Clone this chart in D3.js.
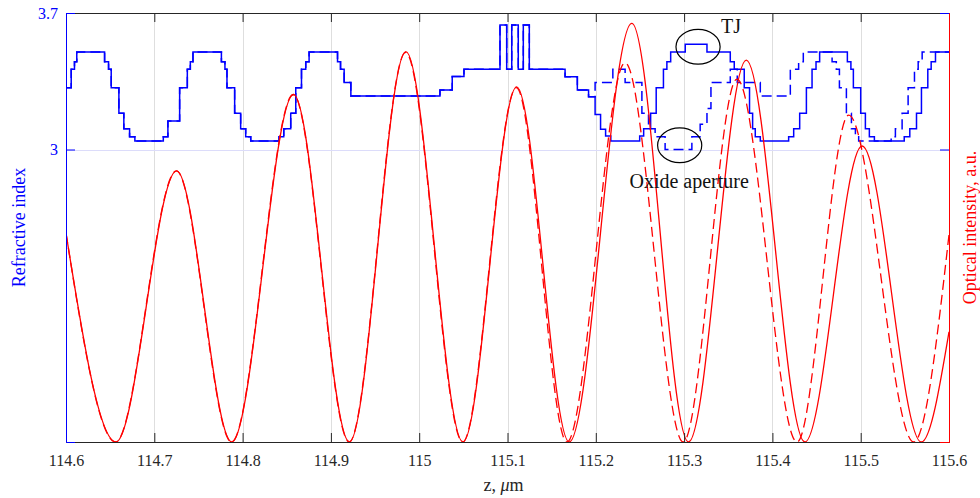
<!DOCTYPE html>
<html>
<head>
<meta charset="utf-8">
<script src="https://cdn.jsdelivr.net/npm/d3@7"></script>
<style>
    html, body { margin: 0; padding: 0; background: #fff; }
    svg, svg text { font-family: "Liberation Serif", "Times New Roman", serif; }
</style>
</head>
<body>
<svg id="chart"></svg>
<script>
// x ticks (z, um)
var xTicks = [114.6, 114.7, 114.8, 114.9, 115, 115.1, 115.2, 115.3, 115.4, 115.5, 115.6];
var xTickLabels = ["114.6", "114.7", "114.8", "114.9", "115", "115.1", "115.2", "115.3", "115.4", "115.5", "115.6"];
var nTicks = [3, 3.7];
var nTickLabels = ["3", "3.7"];

// refractive index profile, layer starts (shared part of both structures)
var zCommon = [114.6, 114.6059, 114.6096, 114.6122, 114.6437, 114.6482, 114.6512, 114.6599, 114.6655, 114.6720,
    114.6780, 114.7102, 114.7154, 114.7287, 114.7374, 114.7408, 114.7438, 114.7760, 114.7800, 114.7823,
    114.7910, 114.7978, 114.8035, 114.8092, 114.8413, 114.8466, 114.8545, 114.8602, 114.8667, 114.8715,
    114.8753, 114.9075, 114.9109, 114.9150, 114.9226, 115.0235, 115.0374, 115.0507, 115.0915, 115.0991,
    115.1048, 115.1122, 115.1179, 115.1247, 115.1652, 115.1791, 115.1918];
var nCommon = [3.317, 3.411, 3.45, 3.5, 3.45, 3.411, 3.317, 3.186, 3.107, 3.066,
    3.044, 3.066, 3.146, 3.317, 3.411, 3.45, 3.5, 3.45, 3.411, 3.317,
    3.186, 3.107, 3.066, 3.044, 3.066, 3.107, 3.186, 3.317, 3.411, 3.45,
    3.5, 3.45, 3.411, 3.343, 3.274, 3.305, 3.375, 3.411, 3.638, 3.411,
    3.638, 3.411, 3.638, 3.411, 3.373, 3.305, 3.271];

// solid structure (with TJ)
var zSolidTail = [115.1992, 115.2054, 115.2111, 115.2170, 115.2497, 115.2542, 115.2621, 115.2684, 115.2766, 115.2805,
    115.2848, 115.3013, 115.3259, 115.3523, 115.3568, 115.3681, 115.3741, 115.3776, 115.3806, 115.3863,
    115.4184, 115.4241, 115.4309, 115.4385, 115.4449, 115.4494, 115.4535, 115.4849, 115.4889, 115.4917,
    115.5000, 115.5053, 115.5098, 115.5155, 115.5493, 115.5556, 115.5632, 115.5688, 115.5760, 115.5798,
    115.5847, 115.6];
var nSolidTail = [3.18, 3.104, 3.069, 3.044, 3.069, 3.107, 3.186, 3.317, 3.411, 3.45,
    3.5, 3.54, 3.5, 3.45, 3.411, 3.317, 3.186, 3.107, 3.066, 3.044,
    3.066, 3.107, 3.186, 3.317, 3.411, 3.45, 3.5, 3.45, 3.411, 3.317,
    3.186, 3.107, 3.066, 3.044, 3.066, 3.107, 3.186, 3.317, 3.411, 3.45,
    3.5, 3.5];

// dashed structure (with oxide aperture)
var zDashedTail = [115.1992, 115.2193, 115.2332, 115.2522, 115.2597, 115.2672, 115.2785, 115.3088, 115.3182, 115.3259,
    115.3304, 115.3523, 115.3602, 115.3863, 115.4203, 115.4297, 115.4350, 115.4676, 115.4724, 115.4759,
    115.4838, 115.4895, 115.4940, 115.4977, 115.5345, 115.5393, 115.5469, 115.5537, 115.5609, 115.5651,
    115.5696, 115.6];
var nDashedTail = [3.343, 3.411, 3.343, 3.186, 3.107, 3.066, 3.0, 3.066, 3.13, 3.21,
    3.343, 3.411, 3.343, 3.274, 3.411, 3.45, 3.5, 3.45, 3.411, 3.317,
    3.186, 3.107, 3.066, 3.044, 3.066, 3.107, 3.186, 3.317, 3.411, 3.45,
    3.5, 3.5];

// optical intensity, a.u. (extrema of the standing wave)
var zIntSolid = [114.6, 114.6565, 114.7253, 114.7878, 114.8577, 114.9210, 114.9849, 115.0496, 115.1104,
    115.1699, 115.2408, 115.3050, 115.3704, 115.4368, 115.5016, 115.5686, 115.6];
var intSolid = [0.487, 0, 0.632, 0, 0.810, 0, 0.910, 0, 0.828, 0, 0.976, 0, 0.890, 0, 0.690, 0, 0.257];
var zIntDashed = [114.6, 114.6562, 114.7250, 114.7875, 114.8574, 114.9207, 114.9846, 115.0492, 115.1100,
    115.1673, 115.2332, 115.2990, 115.3599, 115.4279, 115.4864, 115.5600, 115.6];
var intDashed = [0.487, 0, 0.632, 0, 0.810, 0, 0.908, 0, 0.826, 0, 0.884, 0, 0.846, 0, 0.762, 0, 0.483];

(function() {
    var margin = {top: 13, right: 31, bottom: 56, left: 66},
        width = 883,
        height = 429;

    var blue = "#0000ff", red = "#ff0000", dark = "#262626";
    var serif = "Liberation Serif, Times New Roman, serif";

    var svg = d3.select("#chart")
        .attr("width", width + margin.left + margin.right)
        .attr("height", height + margin.top + margin.bottom)
        .append("g")
        .attr("transform", "translate(" + margin.left + "," + margin.top + ")");

    // scales
    var x = d3.scaleLinear().domain([114.6, 115.6]).range([0, width]);
    var yN = d3.scaleLinear().domain([1.5, 3.7]).range([height, 0]);
    var yI = d3.scaleLinear().domain([0, 1]).range([height, 0]);

    // grid
    svg.append("g").selectAll("line")
        .data(xTicks.slice(1, -1))
        .enter().append("line")
        .attr("x1", (d) => Math.round(x(d)) + 0.5)
        .attr("x2", (d) => Math.round(x(d)) + 0.5)
        .attr("y1", 0).attr("y2", height)
        .attr("stroke", "#dedede");
    svg.append("line")
        .attr("x1", 0).attr("x2", width)
        .attr("y1", Math.round(yN(3)) + 0.5).attr("y2", Math.round(yN(3)) + 0.5)
        .attr("stroke", "#dcdcfa");

    svg.append("clipPath").attr("id", "clip")
        .append("rect").attr("width", width).attr("height", height);
    var plot = svg.append("g").attr("clip-path", "url(#clip)");

    // refractive index lines
    var idxLine = d3.line()
        .x((d) => x(d[0]))
        .y((d) => yN(d[1]))
        .curve(d3.curveStepAfter);
    var solidIdx = d3.zip(zCommon.concat(zSolidTail), nCommon.concat(nSolidTail));
    var dashedIdx = d3.zip(zCommon.concat(zDashedTail), nCommon.concat(nDashedTail));

    plot.append("path").datum(solidIdx)
        .attr("d", idxLine)
        .attr("fill", "none").attr("stroke", blue).attr("stroke-width", 1.5);
    plot.append("path").datum(dashedIdx)
        .attr("d", idxLine)
        .attr("fill", "none").attr("stroke", blue).attr("stroke-width", 1.5)
        .attr("stroke-dasharray", "10,5");

    // optical intensity lines
    var intLine = d3.line()
        .x((d) => x(d[0]))
        .y((d) => yI(d[1]))
        .curve(d3.curveMonotoneX);
    plot.append("path").datum(d3.zip(zIntSolid, intSolid))
        .attr("d", intLine)
        .attr("fill", "none").attr("stroke", red).attr("stroke-width", 1.3);
    plot.append("path").datum(d3.zip(zIntDashed, intDashed))
        .attr("d", intLine)
        .attr("fill", "none").attr("stroke", red).attr("stroke-width", 1.3)
        .attr("stroke-dasharray", "10,5");

    // annotations
    svg.append("ellipse")
        .attr("cx", x(115.3158)).attr("cy", yN(3.527))
        .attr("rx", x(115.3158) - x(115.2908)).attr("ry", yN(3.438) - yN(3.527))
        .attr("fill", "none").attr("stroke", "#000").attr("stroke-width", 1.2);
    svg.append("text")
        .attr("x", x(115.3418)).attr("y", yN(3.597))
        .style("font-size", "20px").attr("fill", "#111")
        .text("TJ");
    svg.append("ellipse")
        .attr("cx", x(115.2950)).attr("cy", yN(3.022))
        .attr("rx", x(115.2950) - x(115.2700)).attr("ry", yN(2.933) - yN(3.022))
        .attr("fill", "none").attr("stroke", "#000").attr("stroke-width", 1.2);
    svg.append("text")
        .attr("x", x(115.2381)).attr("y", yN(2.805))
        .style("font-size", "20px").attr("fill", "#111")
        .text("Oxide aperture");

    // x axis (bottom + top box)
    var xAxis = svg.append("g")
        .attr("transform", "translate(0," + height + ")")
        .call(d3.axisBottom(x).tickValues(xTicks).tickSize(-9).tickPadding(13)
            .tickFormat((d, i) => xTickLabels[i]))
        .attr("font-family", serif)
        .attr("font-size", 16);
    xAxis.selectAll("line, path").attr("stroke", dark);
    xAxis.selectAll("text").attr("fill", dark);

    var xTop = svg.append("g")
        .call(d3.axisTop(x).tickValues(xTicks).tickSize(-9).tickFormat(""));
    xTop.selectAll("line, path").attr("stroke", dark);

    // left axis (refractive index)
    var yAxis = svg.append("g")
        .call(d3.axisLeft(yN).tickValues(nTicks).tickSize(-9).tickPadding(8)
            .tickFormat((d, i) => nTickLabels[i]))
        .attr("font-family", serif)
        .attr("font-size", 16);
    yAxis.selectAll("line, path").attr("stroke", blue);
    yAxis.selectAll("text").attr("fill", blue);

    // right axis (optical intensity)
    var yRight = svg.append("g")
        .attr("transform", "translate(" + width + ",0)")
        .call(d3.axisRight(yN).tickValues(nTicks).tickSize(-9).tickFormat(""));
    yRight.selectAll("line").attr("stroke", blue);
    yRight.select(".domain").attr("stroke", red);

    // axis labels
    var xLabel = svg.append("text")
        .attr("x", width / 2 - 4)
        .attr("y", height + 49)
        .style("text-anchor", "middle")
        .style("font-size", "18px")
        .attr("fill", dark);
    xLabel.append("tspan").text("z, ");
    xLabel.append("tspan").style("font-style", "italic").text("\u03bc");
    xLabel.append("tspan").text("m");

    svg.append("text")
        .attr("transform", "translate(" + (25 - margin.left) + "," + (height / 2) + ") rotate(-90)")
        .style("text-anchor", "middle")
        .style("font-size", "18px")
        .attr("fill", blue)
        .text("Refractive index");

    svg.append("text")
        .attr("transform", "translate(" + (976 - margin.left) + "," + (height / 2) + ") rotate(-90)")
        .style("text-anchor", "middle")
        .style("font-size", "18px")
        .attr("fill", red)
        .text("Optical intensity, a.u.");
})();
</script>
</body>
</html>
